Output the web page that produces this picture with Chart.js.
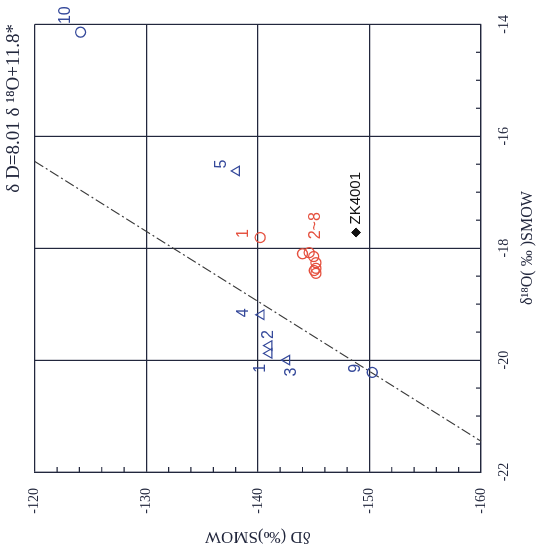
<!DOCTYPE html>
<html>
<head>
<meta charset="utf-8">
<script src="https://cdn.jsdelivr.net/npm/chart.js@4.4.1/dist/chart.umd.min.js"></script>
<style>
  html, body { margin: 0; padding: 0; background: #fff; overflow: hidden; }
  /* the figure is printed turned a quarter turn anticlockwise */
  #wrap { position: absolute; left: 0; top: 0; width: 550px; height: 543px;
          transform-origin: 0 0; transform: translateY(550px) rotate(-90deg); }
</style>
</head>
<body>
<div id="wrap"><canvas id="chart" width="550" height="543"></canvas></div>
<script>
// δ18O (x) and δD (y), per‰ SMOW
const triO18 = [-19.88, -19.74, -20.0, -19.19, -16.62];
const triD = [-141.0, -141.0, -142.6, -140.3, -138.1];
const triNames = ['1', '2', '3', '4', '5'];

const redO18 = [-17.81, -18.10, -18.08, -18.15, -18.26, -18.36, -18.45, -18.40];
const redD = [-140.2, -144.0, -144.6, -145.0, -145.2, -145.2, -145.2, -145.05];
const redNames = ['1', '2~8', '', '', '', '', '', ''];

const blueO18 = [-20.22, -14.14];
const blueD = [-150.25, -124.1];
const blueNames = ['9', '10'];

const zkO18 = [-17.72];
const zkD = [-148.8];
const zkNames = ['ZK4001'];

// meteoric water line δD=8.01δ18O+11.8, ends read at the frame
const lineO18 = [-16.45, -21.45];
const lineD = [-120, -160];

const o18Ticks = [-22, -20, -18, -16, -14];
const dTicks = [-160, -150, -140, -130, -120];

const INK = '#22273d';
const BLUE = '#34489a';
const RED = '#e5503e';
const SERIF = "'Liberation Serif', 'Times New Roman', serif";
const SANS = "'Liberation Sans', Arial, sans-serif";

// label offsets from the mark, canvas px
const triOffsets = [[-15, -8], [11, 0], [-12, 5], [2, -18], [7, -15]];
const redOffsets = [[4, -17], [28, 13]];
const blueOffsets = [[4, -17], [17, -15]];
const zkOffsets = [[8, 0]];

function pts(xs, ys) {
  return xs.map((x, i) => ({ x, y: ys[i] }));
}

const pointNames = {
  id: 'pointNames',
  afterDatasetsDraw(chart) {
    const ctx = chart.ctx;
    ctx.save();
    ctx.textBaseline = 'middle';
    chart.data.datasets.forEach((ds, i) => {
      if (!ds.names) return;
      const meta = chart.getDatasetMeta(i);
      ctx.fillStyle = ds.nameColor;
      ctx.font = ds.nameFont;
      ctx.textAlign = ds.nameAlign || 'center';
      meta.data.forEach((el, j) => {
        const name = ds.names[j];
        if (!name) return;
        const off = ds.nameOffsets[j];
        ctx.fillText(name, el.x + off[0], el.y + off[1]);
      });
    });
    ctx.restore();
  }
};

const minorTicks = {
  id: 'minorTicks',
  afterDraw(chart) {
    const { ctx, chartArea: a, scales: { x, y } } = chart;
    ctx.save();
    ctx.strokeStyle = INK;
    ctx.lineWidth = 1.2;
    ctx.beginPath();
    for (let v = x.min; v <= x.max; v += 0.5) {
      if (v % 2 === 0) continue;
      const px = x.getPixelForValue(v);
      ctx.moveTo(px, a.bottom);
      ctx.lineTo(px, a.bottom - 5);
    }
    for (let v = y.min; v <= y.max; v += 2) {
      if (v % 10 === 0) continue;
      const py = y.getPixelForValue(v);
      ctx.moveTo(a.left, py);
      ctx.lineTo(a.left + 5, py);
    }
    ctx.stroke();
    ctx.restore();
  }
};

new Chart(document.getElementById('chart'), {
  type: 'scatter',
  data: {
    datasets: [
      {
        data: pts(lineO18, lineD),
        showLine: true,
        borderColor: '#3b3b3b',
        borderWidth: 1.2,
        borderDash: [10, 3, 2, 3],
        pointRadius: 0,
        order: 5
      },
      {
        data: pts(redO18, redD),
        pointStyle: 'circle',
        pointRadius: 5,
        borderColor: RED,
        backgroundColor: 'rgba(255,255,255,0)',
        borderWidth: 1.3,
        names: redNames, nameOffsets: redOffsets, nameColor: RED,
        nameFont: '16px ' + SANS
      },
      {
        data: pts(blueO18, blueD),
        pointStyle: 'circle',
        pointRadius: 5,
        borderColor: BLUE,
        backgroundColor: 'rgba(255,255,255,0)',
        borderWidth: 1.3,
        names: blueNames, nameOffsets: blueOffsets, nameColor: BLUE,
        nameFont: '16px ' + SANS
      },
      {
        data: pts(triO18, triD),
        pointStyle: 'triangle',
        pointRadius: 5.5,
        borderColor: BLUE,
        backgroundColor: 'rgba(255,255,255,0)',
        borderWidth: 1.2,
        names: triNames, nameOffsets: triOffsets, nameColor: BLUE,
        nameFont: '16px ' + SANS
      },
      {
        data: pts(zkO18, zkD),
        pointStyle: 'rectRot',
        pointRadius: 4.5,
        borderColor: '#111',
        backgroundColor: '#111',
        borderWidth: 1,
        names: zkNames, nameOffsets: zkOffsets, nameColor: '#111',
        nameAlign: 'left',
        nameFont: '15px ' + SANS
      }
    ]
  },
  options: {
    responsive: false,
    animation: false,
    clip: false,
    layout: { padding: { right: 24 } },
    plugins: {
      legend: { display: false },
      tooltip: { enabled: false },
      title: {
        display: true,
        text: 'δ D=8.01 δ ¹⁸O+11.8*',
        align: 'end',
        color: INK,
        font: { family: SERIF, size: 19, weight: 'normal' },
        padding: { top: 3, bottom: 9 }
      }
    },
    scales: {
      x: {
        type: 'linear',
        position: 'bottom',
        min: o18Ticks[0],
        max: o18Ticks[o18Ticks.length - 1],
        afterBuildTicks(s) { s.ticks = o18Ticks.map(v => ({ value: v })); },
        ticks: { color: INK, padding: 15, maxRotation: 0, font: { family: SERIF, size: 14 } },
        grid: { color: INK, lineWidth: 1.2, drawTicks: false },
        border: { color: INK, width: 1.2 },
        title: {
          display: true,
          text: 'δ¹⁸O( ‰ )SMOW',
          color: INK,
          font: { family: SERIF, size: 16 },
          padding: { top: 0, bottom: 6 }
        },
        afterFit(s) { s.height = 62; }
      },
      y: {
        type: 'linear',
        min: dTicks[0],
        max: dTicks[dTicks.length - 1],
        afterBuildTicks(s) { s.ticks = dTicks.map(v => ({ value: v })); },
        ticks: { color: INK, padding: 16, font: { family: SERIF, size: 14 } },
        grid: { color: INK, lineWidth: 1.2, drawTicks: false },
        border: { color: INK, width: 1.2 },
        title: {
          display: true,
          text: 'δD (‰)SMOW',
          color: INK,
          font: { family: SERIF, size: 17 },
          padding: { top: 3, bottom: 0 }
        },
        afterFit(s) { s.width = 78; }
      }
    }
  },
  plugins: [minorTicks, pointNames]
});
</script>
</body>
</html>
